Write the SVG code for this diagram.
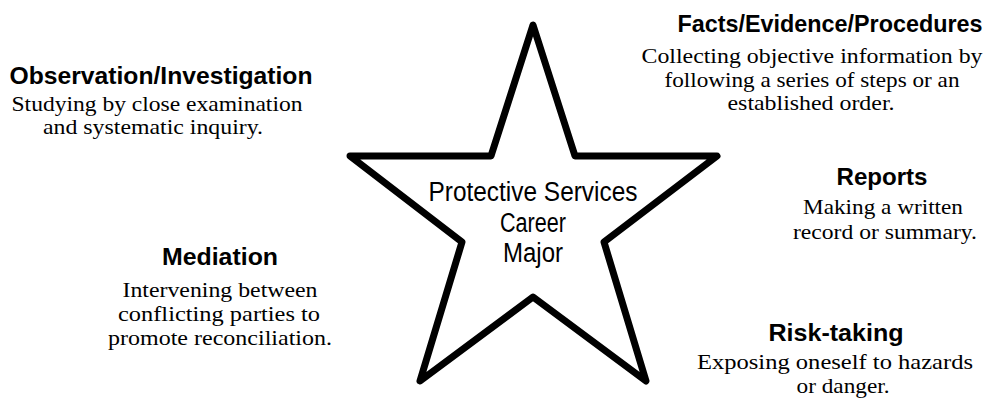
<svg xmlns="http://www.w3.org/2000/svg" width="1004" height="407" viewBox="0 0 1004 407">
<style>
.t{font-family:"Liberation Sans",Arial,sans-serif;font-weight:bold;font-size:24px;fill:#000;text-anchor:middle}
.b{font-family:"Liberation Serif","Times New Roman",serif;font-size:22px;fill:#000;text-anchor:middle}
.c{font-family:"Liberation Sans",Arial,sans-serif;font-size:27px;fill:#000;text-anchor:middle}
.star{fill:#fff;stroke:#000;stroke-width:7;stroke-linejoin:round}
</style>
<rect width="1004" height="407" fill="#fff"/>
<g id="star">
<polygon class="star" points="533,25 491,156 350,156 462,242 420,381 533,297 646,381 604,242 717,156 575,156"/>
<text class="c" x="533" y="201" textLength="209" lengthAdjust="spacingAndGlyphs">Protective Services</text>
<text class="c" x="533" y="232" textLength="66" lengthAdjust="spacingAndGlyphs">Career</text>
<text class="c" x="533" y="262" textLength="60" lengthAdjust="spacingAndGlyphs">Major</text>
</g>
<g id="connectors"></g>
<g id="facts">
<text class="t" x="830" y="32" textLength="305" lengthAdjust="spacingAndGlyphs">Facts/Evidence/Procedures</text>
<text class="b" x="812" y="63" textLength="341" lengthAdjust="spacingAndGlyphs">Collecting objective information by</text>
<text class="b" x="812" y="87" textLength="295" lengthAdjust="spacingAndGlyphs">following a series of steps or an</text>
<text class="b" x="811" y="110" textLength="167" lengthAdjust="spacingAndGlyphs">established order.</text>
</g>
<g id="observation">
<text class="t" x="161" y="84" textLength="303" lengthAdjust="spacingAndGlyphs">Observation/Investigation</text>
<text class="b" x="157" y="111" textLength="291" lengthAdjust="spacingAndGlyphs">Studying by close examination</text>
<text class="b" x="153" y="134" textLength="220" lengthAdjust="spacingAndGlyphs">and systematic inquiry.</text>
</g>
<g id="reports">
<text class="t" x="882" y="185" textLength="91" lengthAdjust="spacingAndGlyphs">Reports</text>
<text class="b" x="883" y="214" textLength="160" lengthAdjust="spacingAndGlyphs">Making a written</text>
<text class="b" x="885" y="239" textLength="184" lengthAdjust="spacingAndGlyphs">record or summary.</text>
</g>
<g id="mediation">
<text class="t" x="220" y="265" textLength="116" lengthAdjust="spacingAndGlyphs">Mediation</text>
<text class="b" x="220" y="297" textLength="195" lengthAdjust="spacingAndGlyphs">Intervening between</text>
<text class="b" x="219" y="321" textLength="202" lengthAdjust="spacingAndGlyphs">conflicting parties to</text>
<text class="b" x="220" y="345" textLength="224" lengthAdjust="spacingAndGlyphs">promote reconciliation.</text>
</g>
<g id="risk">
<text class="t" x="836" y="341" textLength="135" lengthAdjust="spacingAndGlyphs">Risk-taking</text>
<text class="b" x="835" y="369" textLength="276" lengthAdjust="spacingAndGlyphs">Exposing oneself to hazards</text>
<text class="b" x="843" y="393" textLength="93" lengthAdjust="spacingAndGlyphs">or danger.</text>
</g>
</svg>
